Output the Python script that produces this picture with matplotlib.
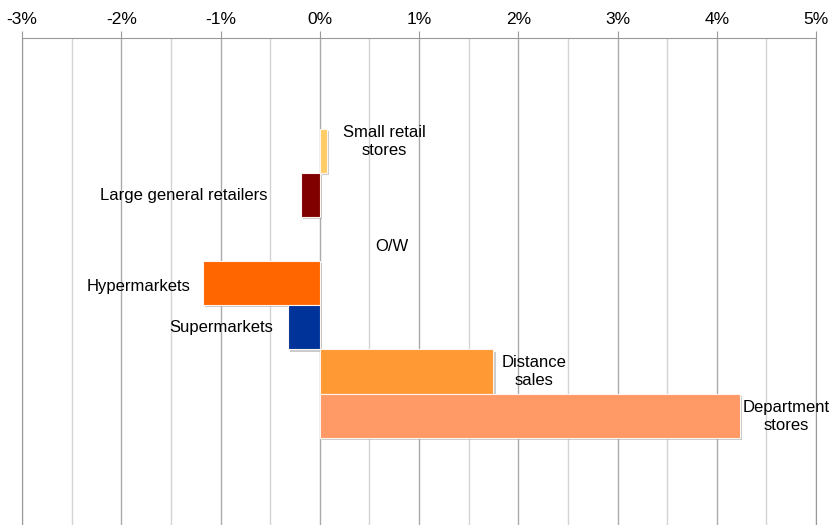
import numpy as np
import matplotlib.pyplot as plt
import matplotlib.patheffects as pe
from matplotlib.ticker import MultipleLocator, FuncFormatter

plt.rcParams['font.family'] = ['Liberation Sans', 'DejaVu Sans']

# Data (% change)
categories = ['Small retail\nstores', 'Large general retailers', 'O/W',
              'Hypermarkets', 'Supermarkets', 'Distance\nsales', 'Department\nstores']
values = [0.07, -0.19, 0.0, -1.18, -0.32, 1.75, 4.23]
colors = ['#FFCC66', '#800000', '#FFFFFF', '#FF6600', '#003399', '#FF9933', '#FF9966']

# label placement: side and offset (x, y) in points from the bar end
label_side = ['right', 'left', 'right', 'left', 'left', 'right', 'right']
label_dx = [12, 24, 40, 9, 11, 6, 2]
label_dy = [7, 0, -5, -2, 0, 0, -1]

fig = plt.figure(figsize=(8.39, 5.25), dpi=100)
ax = fig.add_axes([22 / 839, 0, 794 / 839, 1 - 38 / 525])

ypos = np.arange(len(categories))
shadow = [pe.SimplePatchShadow(offset=(1.5, -1.5), shadow_rgbFace='#999999', alpha=0.5), pe.Normal()]
for y, v, c in zip(ypos, values, colors):
    if v == 0:
        continue
    b = ax.barh(y, v, height=1.0, color=c, edgecolor='#fff4ee', linewidth=0.8, zorder=3)
    b[0].set_path_effects(shadow)

for y, v, lab, side, dx, dy in zip(ypos, values, categories, label_side, label_dx, label_dy):
    if side == 'right':
        ax.annotate(lab, (max(v, 0), y), xytext=(dx, dy), textcoords='offset points',
                    ha='left', va='center', multialignment='center', fontsize=12,
                    linespacing=1.25, zorder=4)
    else:
        ax.annotate(lab, (min(v, 0), y), xytext=(-dx, dy), textcoords='offset points',
                    ha='right', va='center', multialignment='center', fontsize=12,
                    linespacing=1.25, zorder=4)

ax.set_xlim(-3, 5)
ax.set_ylim(8.48, -2.56)
ax.xaxis.set_major_locator(MultipleLocator(1))
ax.xaxis.set_minor_locator(MultipleLocator(0.5))
ax.xaxis.set_major_formatter(FuncFormatter(lambda x, p: f'{x:.0f}%'))
ax.xaxis.tick_top()
ax.tick_params(axis='x', which='major', length=5, color='#999999', labelsize=12.5, pad=3)
ax.tick_params(axis='x', which='minor', length=0)
ax.set_yticks([])

ax.grid(which='minor', axis='x', color='#d4d4d4', linewidth=1, zorder=0)
ax.grid(which='major', axis='x', color='#aaaaaa', linewidth=1, zorder=1)
for s in ['bottom']:
    ax.spines[s].set_visible(False)
for s in ['top', 'left', 'right']:
    ax.spines[s].set_color('#999999')

fig.savefig('out.png', dpi=100)
